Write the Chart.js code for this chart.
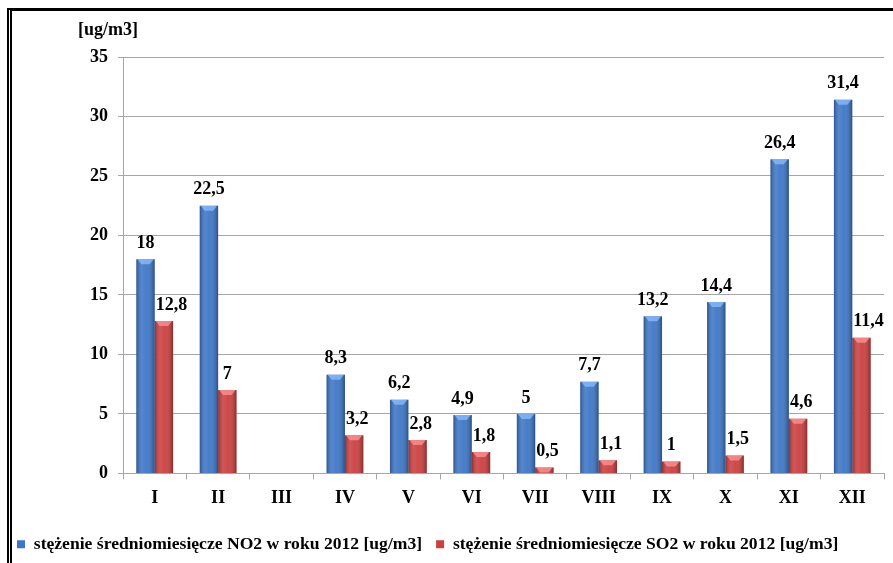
<!DOCTYPE html>
<html>
<head>
<meta charset="utf-8">
<script src="https://cdn.jsdelivr.net/npm/chart.js@4"></script>
<style>
  html, body { margin: 0; padding: 0; background: #fff; }
  #wrap { position: relative; width: 893px; height: 563px; }
  #frame {
    position: absolute; left: 7px; top: 8px; right: 0; bottom: 0;
    border-top: 3px solid #000; border-left: 5px double #000;
    pointer-events: none;
  }
</style>
</head>
<body>
<div id="wrap">
  <canvas id="chart"></canvas>
  <div id="frame"></div>
</div>
<script>
const months = ["I", "II", "III", "IV", "V", "VI", "VII", "VIII", "IX", "X", "XI", "XII"];
const no2 = [18, 22.5, null, 8.3, 6.2, 4.9, 5, 7.7, 13.2, 14.4, 26.4, 31.4];
const so2 = [12.8, 7, null, 3.2, 2.8, 1.8, 0.5, 1.1, 1, 1.5, 4.6, 11.4];
const yTicks = [0, 5, 10, 15, 20, 25, 30, 35];
const unitLabel = "[ug/m3]";
const no2Name = "stężenie średniomiesięcze NO2 w roku 2012 [ug/m3]";
const so2Name = "stężenie średniomiesięcze SO2 w roku 2012 [ug/m3]";

const fontFamily = "'Liberation Serif', 'Times New Roman', serif";
const gridColor = "#a6a6a6";

// shading + top bevel on each bar, then value labels
const barDecor = {
  id: 'barDecor',
  afterDatasetsDraw(chart) {
    const ctx = chart.ctx;
    const bevels = ["rgba(140,190,255,0.75)", "rgba(255,150,150,0.75)"];
    chart.data.datasets.forEach((ds, di) => {
      const meta = chart.getDatasetMeta(di);
      meta.data.forEach((bar, i) => {
        if (ds.data[i] == null) return;
        const w = bar.width, l = bar.x - w / 2, r = bar.x + w / 2;
        const top = bar.y, base = bar.base;
        const g = ctx.createLinearGradient(l, 0, r, 0);
        g.addColorStop(0, "rgba(0,0,0,0.28)");
        g.addColorStop(0.3, "rgba(255,255,255,0.12)");
        g.addColorStop(0.55, "rgba(255,255,255,0.05)");
        g.addColorStop(1, "rgba(0,0,0,0.32)");
        ctx.save();
        ctx.fillStyle = g;
        ctx.fillRect(l, top, w, base - top);
        const bh = Math.min(5, base - top);
        ctx.fillStyle = bevels[di];
        ctx.beginPath();
        ctx.moveTo(l + 1, top);
        ctx.lineTo(r - 1, top);
        ctx.lineTo(r - 5, top + bh);
        ctx.lineTo(l + 5, top + bh);
        ctx.closePath();
        ctx.fill();
        ctx.restore();
      });
    });

    ctx.save();
    ctx.font = "bold 18px " + fontFamily;
    ctx.fillStyle = "#000";
    ctx.textBaseline = "bottom";
    ctx.textAlign = "left";
    chart.data.datasets.forEach((ds, di) => {
      const meta = chart.getDatasetMeta(di);
      meta.data.forEach((bar, i) => {
        const v = ds.data[i];
        if (v == null) return;
        const txt = String(v).replace('.', ',');
        const tw = ctx.measureText(txt).width;
        let x = bar.x - tw / 2;
        if (di === 1) x = Math.max(x, bar.x - bar.width / 2 + 1);
        ctx.fillText(txt, x, bar.y - 7);
      });
    });
    // unit label above the y axis
    ctx.fillText(unitLabel, chart.chartArea.left - 45, 39);
    ctx.restore();
  }
};

new Chart(document.getElementById('chart'), {
  type: 'bar',
  data: {
    labels: months,
    datasets: [
      { label: no2Name, data: no2, backgroundColor: "#3d76c6" },
      { label: so2Name, data: so2, backgroundColor: "#cb3f3f" }
    ]
  },
  options: {
    responsive: true,
    maintainAspectRatio: false,
    animation: false,
    categoryPercentage: 0.58,
    barPercentage: 1,
    layout: { padding: { left: 3, top: 57, right: 9, bottom: 0 } },
    scales: {
      x: {
        afterFit(scale) { scale.height = 48; },
        grid: { drawOnChartArea: false, color: gridColor, tickLength: 6, offset: true },
        border: { color: gridColor },
        ticks: { color: "#000", padding: 8, font: { family: fontFamily, size: 18, weight: 'bold' } }
      },
      y: {
        min: 0,
        max: 35,
        afterFit(scale) { scale.width = 120; },
        afterBuildTicks(scale) { scale.ticks = yTicks.map(v => ({ value: v })); },
        grid: { color: gridColor, tickLength: 5 },
        border: { color: gridColor },
        ticks: { color: "#000", padding: 10, font: { family: fontFamily, size: 18, weight: 'bold' } }
      }
    },
    plugins: {
      tooltip: { enabled: false },
      legend: {
        position: 'bottom',
        align: 'start',
        labels: {
          color: "#000",
          boxWidth: 8,
          boxHeight: 8,
          padding: 14,
          font: { family: fontFamily, size: 17.6, weight: 'bold' }
        }
      }
    }
  },
  plugins: [barDecor]
});
</script>
</body>
</html>
